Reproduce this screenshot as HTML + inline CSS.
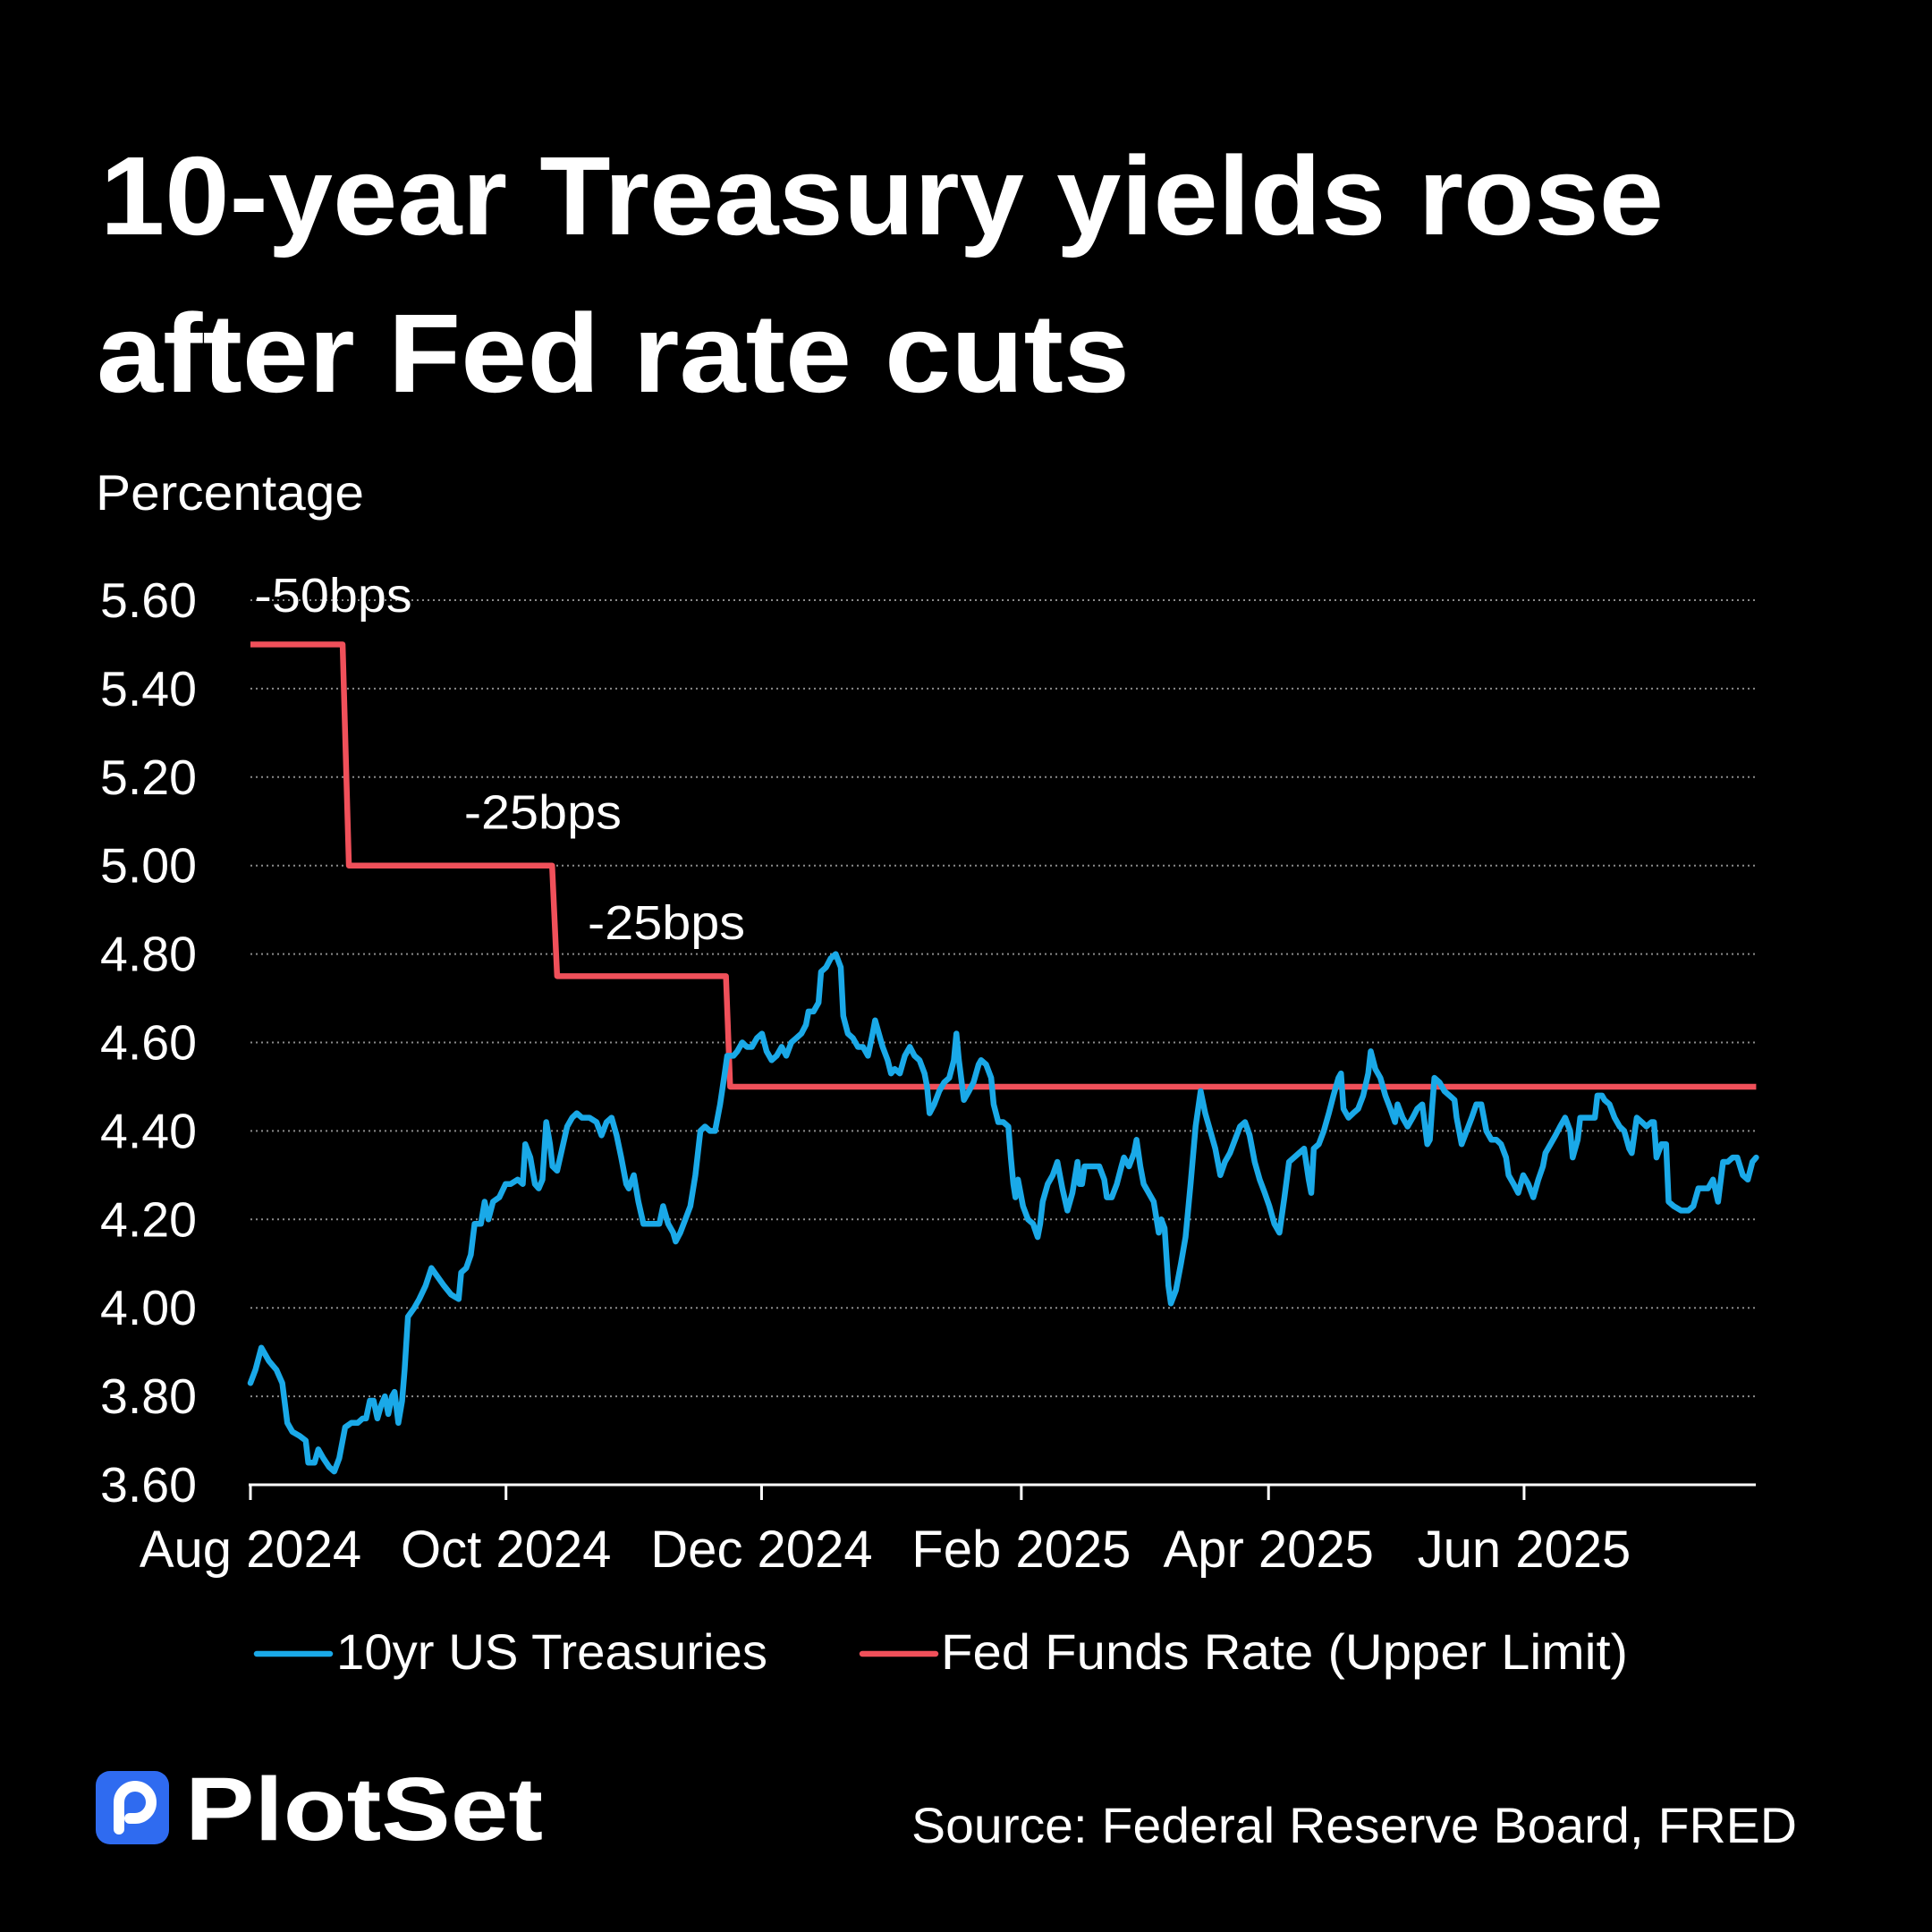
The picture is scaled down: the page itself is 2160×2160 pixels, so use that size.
<!DOCTYPE html>
<html><head><meta charset="utf-8"><style>
html,body{margin:0;padding:0;background:#000;}
svg{display:block;font-family:"Liberation Sans",sans-serif;}
</style></head><body>
<svg id="chart" width="2160" height="2160" viewBox="0 0 2160 2160" xmlns="http://www.w3.org/2000/svg">
<rect width="2160" height="2160" fill="#000"/>
<text x="112" y="262" fill="#fff" font-weight="bold" font-size="125" textLength="1748" lengthAdjust="spacingAndGlyphs">10-year Treasury yields rose</text>
<text x="108" y="438" fill="#fff" font-weight="bold" font-size="125" textLength="1155" lengthAdjust="spacingAndGlyphs">after Fed rate cuts</text>
<text x="107" y="570" fill="#fff" font-size="56" textLength="300" lengthAdjust="spacingAndGlyphs">Percentage</text>
<g id="grid"></g>
<g id="yticks"></g>
<g id="xaxis"></g>
<g id="series"></g>
<g id="annots"></g>
<g>
<line x1="287" y1="1849" x2="369" y2="1849" stroke="#1aa9e8" stroke-width="6.5" stroke-linecap="round"/>
<text x="376" y="1866" fill="#fff" font-size="56" textLength="482" lengthAdjust="spacingAndGlyphs">10yr US Treasuries</text>
<line x1="964" y1="1849" x2="1046" y2="1849" stroke="#f0505a" stroke-width="6.5" stroke-linecap="round"/>
<text x="1052" y="1866" fill="#fff" font-size="56" textLength="768" lengthAdjust="spacingAndGlyphs">Fed Funds Rate (Upper Limit)</text>
</g>
<g>
<rect x="107" y="1980" width="82" height="82" rx="16" fill="#2f6bf0"/>
<path d="M133 2045 L133 2015 A18 18 0 1 1 151 2033 L145 2033" fill="none" stroke="#fff" stroke-width="12" stroke-linecap="round"/>
<text x="207" y="2057" fill="#fff" font-weight="bold" font-size="100" textLength="400" lengthAdjust="spacingAndGlyphs">PlotSet</text>
</g>
<text x="2009" y="2060" fill="#fff" font-size="56" text-anchor="end" textLength="990" lengthAdjust="spacingAndGlyphs">Source: Federal Reserve Board, FRED</text>
</svg>
<script>
const tsDays=[0,1.2,2.6,4.4,6.2,7.6,8.8,10,11.8,13.2,13.8,15.3,16.2,17.4,18.8,20,21.2,22.6,24.1,25.6,26.8,27.6,28.5,29.4,30.3,31.2,32.1,32.9,33.8,34.4,35.3,36.2,36.8,37.6,39.1,40.3,41.8,43.2,44.7,46.2,47.9,49.7,50.3,51.5,52.6,53.5,55,55.9,56.8,57.9,59.4,60.9,62.1,63.8,65,65.6,66.8,67.9,68.8,69.7,70.6,71.5,72.1,73.2,74.4,75.6,76.8,77.9,79.1,80.9,82.6,83.8,85,86.2,87.4,88.5,89.7,90.3,91.5,92.6,93.8,95,96.8,97.6,98.5,99.7,100.9,101.5,102.6,103.8,105,106.2,107.4,108.5,109.7,110.9,112.1,113.2,113.8,115.3,116.2,117.4,118.5,119.7,120.9,122.1,123.2,124.4,125.6,126.8,127.9,129.1,130.3,131.5,132.6,133.2,134.4,135.6,136.2,137.4,138.5,139.7,140.9,141.5,142.6,143.8,145,146.2,147.4,148.5,149.1,149.7,150.9,152.1,152.9,153.8,155,156.2,157.4,158.5,159.7,160.9,161.5,162.1,163.2,164.4,165.6,166.8,167.9,168.5,169.1,170.3,171.5,172.6,173.8,174.4,175.6,176.8,177.4,178.5,179.7,180.9,181.5,182.1,182.6,183.2,184.4,185.6,186.8,187.9,188.5,189.1,190.3,191.5,192.6,193.8,195,196.2,197.4,197.9,198.5,199.1,200.3,201.5,202.6,203.8,204.4,205.6,206.8,207.9,208.5,209.7,210.9,211.5,212.4,213.2,214.4,215.6,216.8,217.4,218.2,219.1,219.7,220.9,222.1,223.2,224.4,225.6,226.8,227.9,229.1,230.3,231.5,232.6,233.8,235,236.2,237.4,238.5,239.7,240.9,242.1,243.2,244.4,245.6,246.8,247.9,249.1,250.3,251.5,252.6,253.2,253.8,255,256.2,257.4,258.5,259.7,260.3,260.9,262.1,263.2,264.4,265.6,266.8,267.4,268.5,269.7,270.9,272.1,273.2,273.8,275,276.2,277.4,278.5,279.7,280.9,281.5,282.1,282.6,283.8,285,286.2,287.4,287.9,289.1,290.3,291.5,292.6,293.8,295,296.2,297.4,298.5,299.7,300.3,301.5,302.6,303.8,305,306.2,307.4,308.5,309.1,310.3,311.5,312.6,313.8,315,315.6,316.8,317.4,318.5,319.7,320.9,321.5,322.6,323.2,324.4,325.6,326.8,327.9,329.1,329.7,330.9,332.1,333.2,334.4,335,335.6,336.8,337.9,338.5,339.7,341.5,343.2,344.4,345.6,346.8,347.9,349.1,350.3,351.5,352.6,353.8,354.9,356.2,357.4,358.5,359.4];
const tsValues=[3.83,3.86,3.91,3.88,3.86,3.83,3.74,3.72,3.71,3.70,3.65,3.65,3.68,3.66,3.64,3.63,3.66,3.73,3.74,3.74,3.75,3.75,3.79,3.79,3.75,3.78,3.80,3.76,3.80,3.81,3.74,3.79,3.86,3.98,4.00,4.02,4.05,4.09,4.07,4.05,4.03,4.02,4.08,4.09,4.12,4.19,4.19,4.24,4.20,4.24,4.25,4.28,4.28,4.29,4.28,4.37,4.34,4.28,4.27,4.29,4.42,4.37,4.32,4.31,4.36,4.41,4.43,4.44,4.43,4.43,4.42,4.39,4.42,4.43,4.39,4.34,4.28,4.27,4.30,4.24,4.19,4.19,4.19,4.19,4.23,4.19,4.17,4.15,4.17,4.20,4.23,4.30,4.40,4.41,4.40,4.40,4.46,4.53,4.57,4.57,4.58,4.60,4.59,4.59,4.61,4.62,4.58,4.56,4.57,4.59,4.57,4.60,4.61,4.62,4.64,4.67,4.67,4.69,4.76,4.77,4.79,4.80,4.77,4.66,4.62,4.61,4.59,4.59,4.57,4.62,4.65,4.63,4.59,4.56,4.53,4.54,4.53,4.57,4.59,4.57,4.56,4.53,4.50,4.44,4.46,4.49,4.51,4.52,4.56,4.62,4.56,4.47,4.49,4.51,4.55,4.56,4.55,4.52,4.46,4.42,4.42,4.41,4.34,4.28,4.25,4.29,4.23,4.20,4.19,4.16,4.19,4.24,4.28,4.30,4.33,4.27,4.22,4.26,4.33,4.28,4.28,4.32,4.32,4.32,4.32,4.29,4.25,4.25,4.28,4.32,4.34,4.32,4.35,4.38,4.32,4.28,4.26,4.24,4.17,4.20,4.18,4.05,4.01,4.04,4.10,4.16,4.28,4.41,4.49,4.44,4.40,4.36,4.30,4.33,4.35,4.38,4.41,4.42,4.39,4.33,4.29,4.26,4.23,4.19,4.17,4.25,4.33,4.34,4.35,4.36,4.29,4.26,4.36,4.37,4.40,4.44,4.48,4.52,4.53,4.45,4.43,4.44,4.45,4.48,4.53,4.58,4.54,4.52,4.48,4.45,4.42,4.46,4.43,4.41,4.43,4.45,4.46,4.37,4.38,4.46,4.52,4.51,4.49,4.48,4.47,4.43,4.37,4.40,4.43,4.46,4.46,4.40,4.38,4.38,4.37,4.34,4.30,4.28,4.26,4.30,4.28,4.25,4.29,4.32,4.35,4.37,4.39,4.41,4.43,4.40,4.34,4.38,4.43,4.43,4.43,4.43,4.48,4.48,4.47,4.46,4.43,4.41,4.40,4.36,4.35,4.43,4.42,4.41,4.42,4.42,4.34,4.37,4.37,4.24,4.23,4.22,4.22,4.23,4.27,4.27,4.27,4.29,4.24,4.33,4.33,4.34,4.34,4.30,4.29,4.33,4.34];
const fedDays=[0,22,23.5,72,73.2,113.5,114.5,359.4];
const fedValues=[5.50,5.50,5.00,5.00,4.75,4.75,4.50,4.50];
const yTicks=[3.6,3.8,4.0,4.2,4.4,4.6,4.8,5.0,5.2,5.4,5.6];
const xTickDays=[0,61,122,184,243,304];
const xTickLabels=["Aug 2024","Oct 2024","Dec 2024","Feb 2025","Apr 2025","Jun 2025"];
const annotDays=[1,51,80.5];
const annotValues=[5.61,5.12,4.87];
const annotLabels=["-50bps","-25bps","-25bps"];

const NS="http://www.w3.org/2000/svg";
const X0=280,XPD=4.684,Y0=1660,YPU=494.5;
const xs=d=>X0+d*XPD;
const ys=v=>Y0-(v-3.6)*YPU;
function mk(tag,attrs,parent){const e=document.createElementNS(NS,tag);for(const k in attrs)e.setAttribute(k,attrs[k]);parent.appendChild(e);return e;}
const grid=document.getElementById('grid'),yt=document.getElementById('yticks'),xa=document.getElementById('xaxis'),se=document.getElementById('series'),an=document.getElementById('annots');
yTicks.forEach(v=>{
  if(v>3.61){const g=mk('line',{x1:280,x2:1963,y1:ys(v),y2:ys(v),stroke:'#8a8a8a','stroke-width':2,'stroke-dasharray':'2,4'},grid);
  
  }
  const t=mk('text',{x:220,y:ys(v)+19,fill:'#fff','font-size':55,'text-anchor':'end',textLength:108,lengthAdjust:'spacingAndGlyphs'},yt);
  t.textContent=v.toFixed(2);
  
  
});
const ax=mk('line',{x1:278,x2:1963,y1:Y0,y2:Y0,stroke:'#fff','stroke-width':3},xa);


xTickDays.forEach((d,i)=>{
  const tk=mk('line',{x1:xs(d),x2:xs(d),y1:Y0,y2:Y0+17,stroke:'#fff','stroke-width':3},xa);
  
  
  const t=mk('text',{x:xs(d),y:1752,fill:'#fff','font-size':58,'text-anchor':'middle'},xa);
  t.textContent=xTickLabels[i];
  
  
});
const fp=mk('polyline',{points:fedDays.map((d,i)=>xs(d)+','+ys(fedValues[i])).join(' '),fill:'none',stroke:'#f0505a','stroke-width':6.5,'stroke-linejoin':'round'},se);


const tp=mk('polyline',{points:tsDays.map((d,i)=>xs(d)+','+ys(tsValues[i])).join(' '),fill:'none',stroke:'#1aa9e8','stroke-width':6.5,'stroke-linejoin':'round','stroke-linecap':'round'},se);


annotLabels.forEach((s,i)=>{
  const t=mk('text',{x:xs(annotDays[i]),y:ys(annotValues[i])+18,fill:'#fff','font-size':54,textLength:176,lengthAdjust:'spacingAndGlyphs'},an);
  t.textContent=s;
  
  
});
</script>
</body></html>
